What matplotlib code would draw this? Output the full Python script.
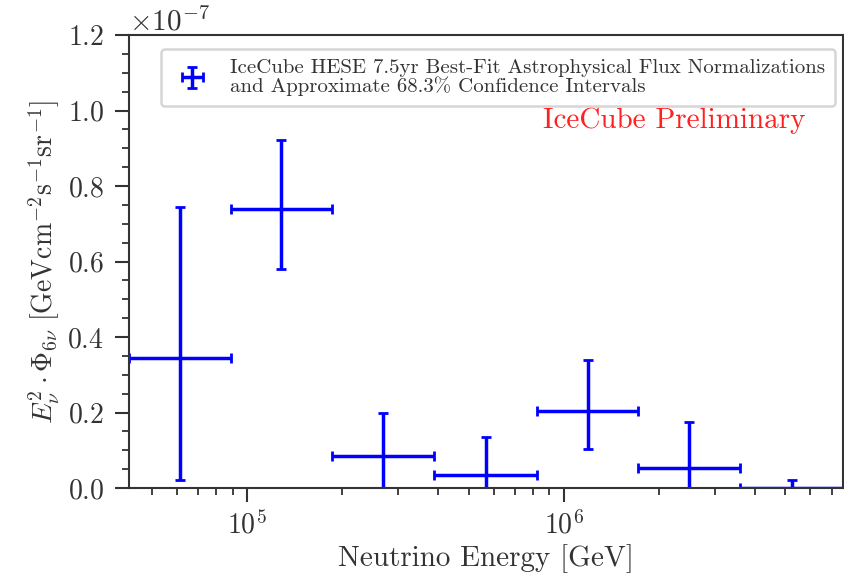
import matplotlib
matplotlib.use("Agg")
import matplotlib.pyplot as plt
import numpy as np

plt.rcParams['font.family'] = 'serif'
plt.rcParams['font.serif'] = ['cmr10']
plt.rcParams['mathtext.fontset'] = 'cm'
plt.rcParams['axes.formatter.use_mathtext'] = True

# bin edges (GeV) and best-fit normalizations with 68.3% intervals
edges = [42400, 89000, 186000, 389000, 822000, 1710000, 3600000, 7600000]
centers = [61400, 128000, 268000, 567000, 1190000, 2480000, 5250000]
flux = [0.344e-7, 0.738e-7, 0.085e-7, 0.034e-7, 0.204e-7, 0.052e-7, 0.001e-7]
flux_lo = [0.021e-7, 0.581e-7, 0.0, 0.0, 0.103e-7, 0.0, 0.0]
flux_hi = [0.745e-7, 0.921e-7, 0.200e-7, 0.136e-7, 0.338e-7, 0.174e-7, 0.020e-7]

edges = np.array(edges)
centers = np.array(centers)
flux = np.array(flux)
xerr = [centers - edges[:-1], edges[1:] - centers]
yerr = [flux - np.array(flux_lo), np.array(flux_hi) - flux]

txt = '0.2'

fig = plt.figure(figsize=(8.45, 5.81), dpi=100)
ax = fig.add_axes([129/845, 93/581, 714/845, 453/581])

ax.errorbar(centers, flux, xerr=xerr, yerr=yerr, fmt='none', ecolor='blue',
            elinewidth=2.5, capsize=3.6, capthick=2,
            label='IceCube HESE 7.5yr Best-Fit Astrophysical Flux Normalizations\nand Approximate 68.3% Confidence Intervals')

ax.set_xscale('log')
ax.set_xlim(edges[0], edges[-1])
ax.set_ylim(0, 1.2e-7)
ax.set_yticks(np.arange(0, 1.21e-7, 0.2e-7))
ax.set_yticks(np.arange(0, 1.21e-7, 0.05e-7), minor=True)

ax.tick_params(axis='both', which='major', direction='out', length=10, width=1.5,
               labelsize=20, colors=txt)
ax.tick_params(axis='y', which='major', pad=8)
ax.tick_params(axis='x', which='major', pad=6)
ax.tick_params(axis='both', which='minor', direction='out', length=5, width=1.3, colors=txt)
for s in ax.spines.values():
    s.set_linewidth(1.5)
    s.set_color(txt)
ax.yaxis.get_offset_text().set_fontsize(21)
ax.yaxis.get_offset_text().set_color(txt)

ax.set_xlabel('Neutrino Energy [GeV]', fontsize=21, color=txt)
ax.set_ylabel(r'$E_{\nu}^{2}\cdot\Phi_{6\nu}\ [\mathrm{GeV cm^{-2} s^{-1} sr^{-1}}]$',
              fontsize=20, color=txt)

leg = ax.legend(loc='upper right', bbox_to_anchor=(0.989, 0.970), borderaxespad=0,
                fontsize=15, framealpha=0.8, borderpad=0.5,
                handlelength=2.0, handletextpad=0.8)
leg.get_frame().set_linewidth(1.8)
for t in leg.get_texts():
    t.set_linespacing(0.95)
    t.set_color(txt)
ax.text(0.948, 0.795, 'IceCube Preliminary', color='#ff2020', fontsize=21,
        ha='right', va='baseline', transform=ax.transAxes)

fig.savefig('out.png', dpi=100)
